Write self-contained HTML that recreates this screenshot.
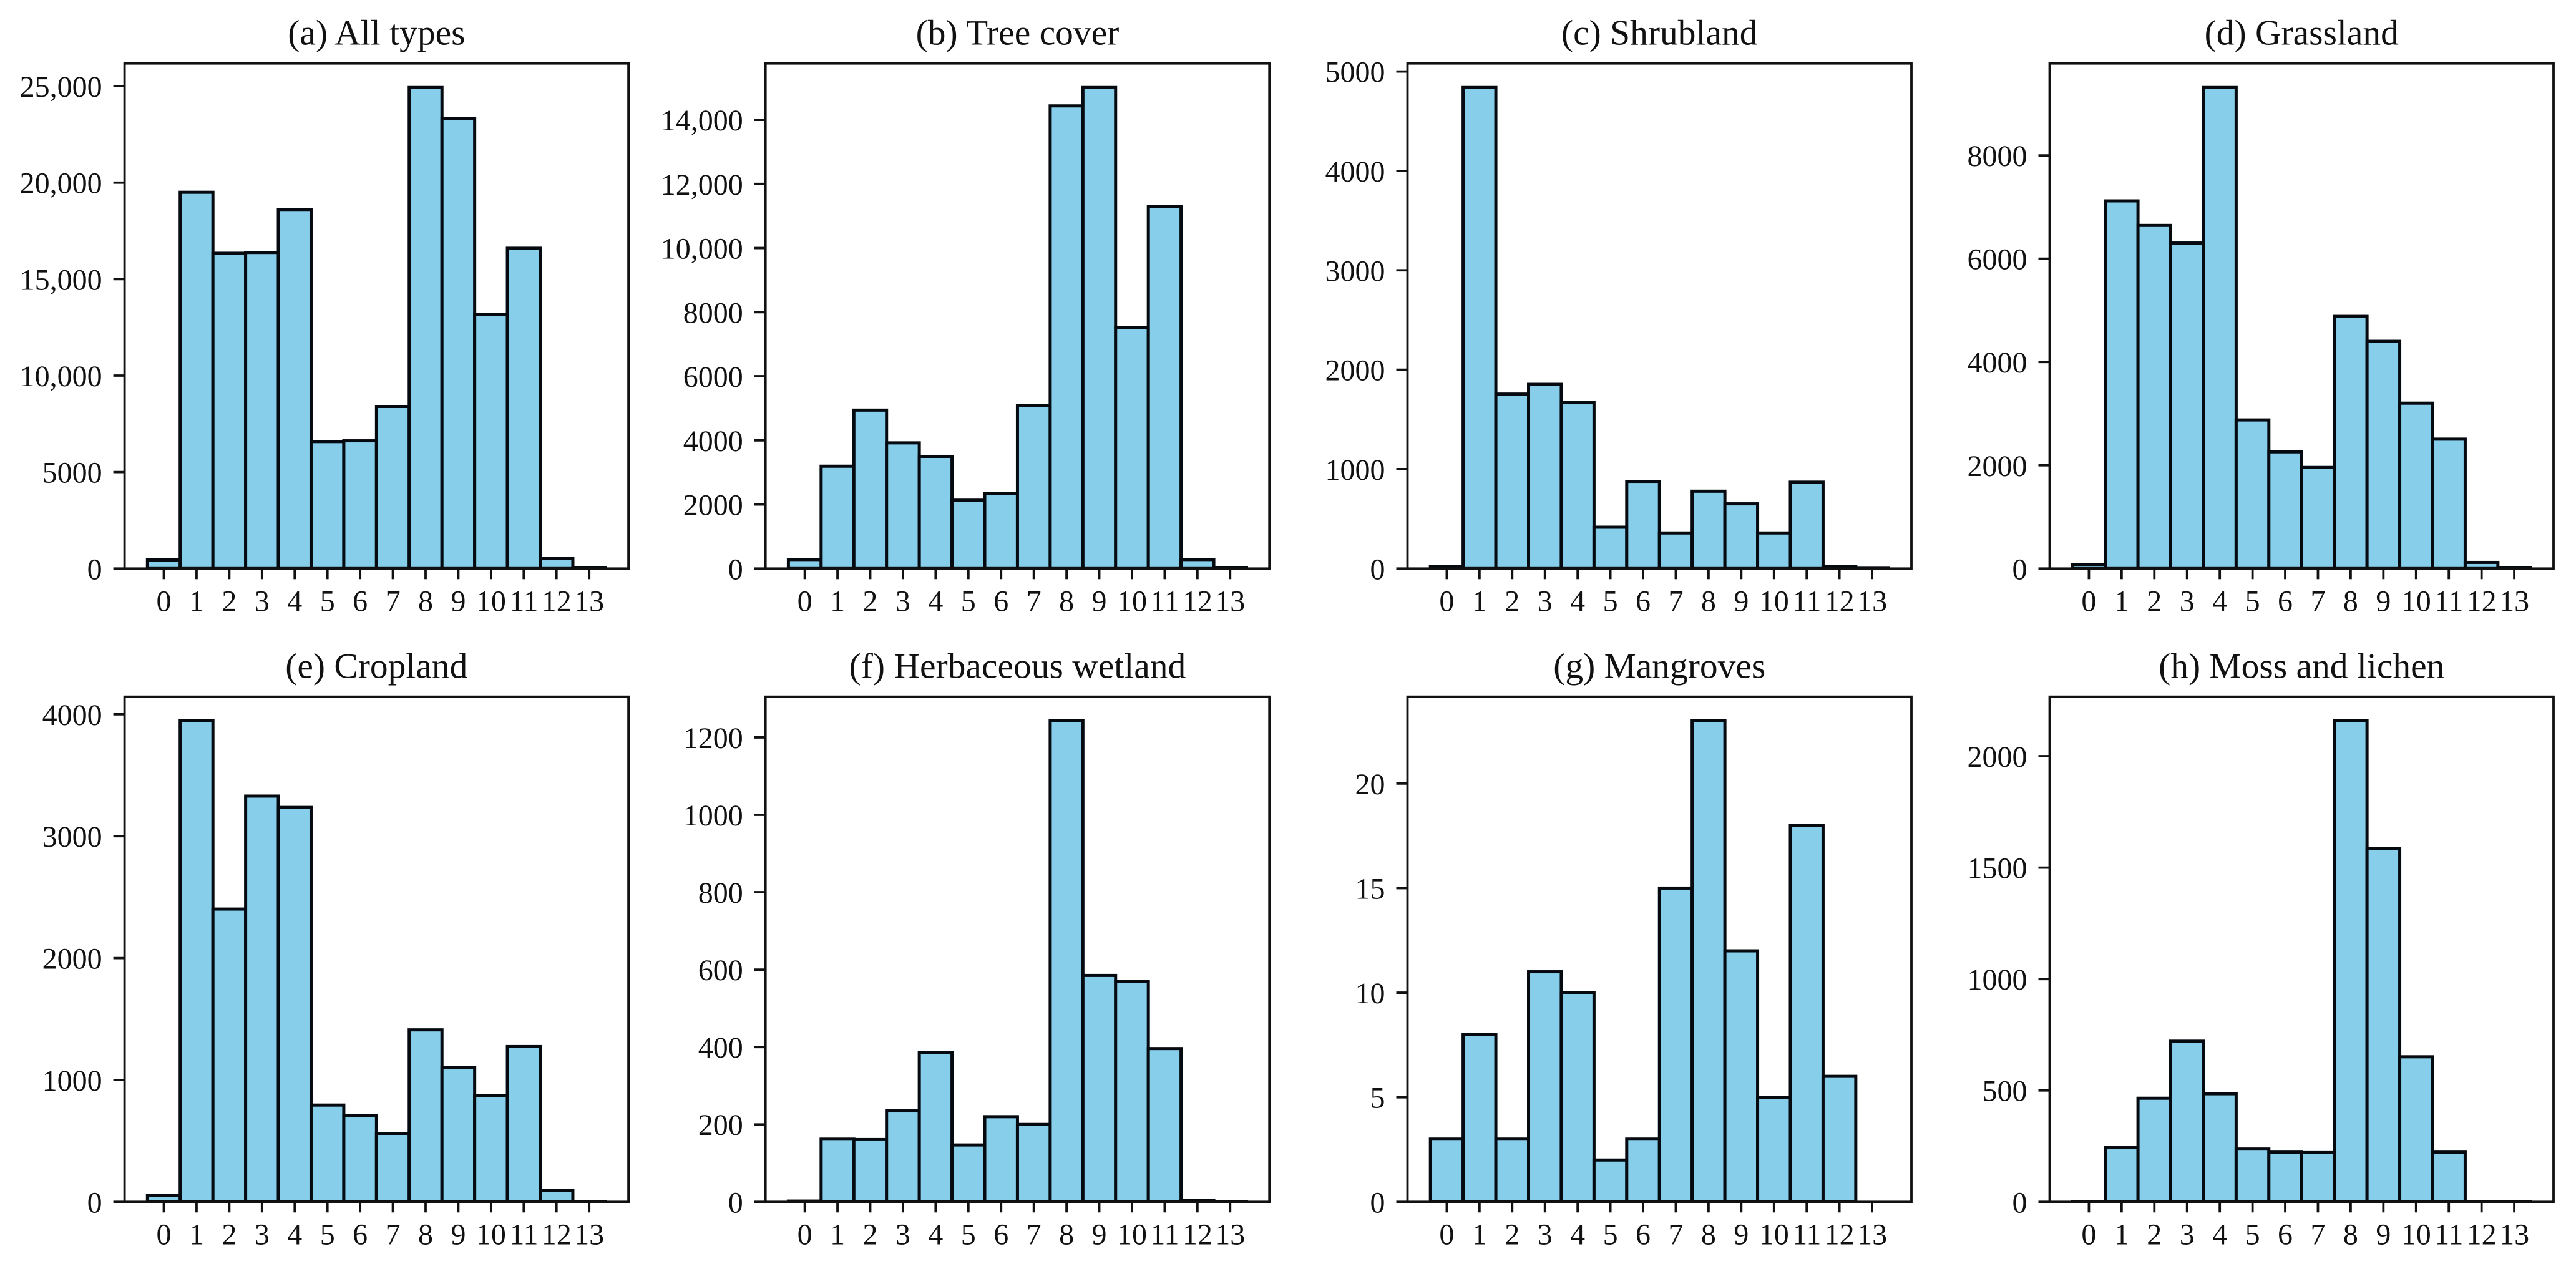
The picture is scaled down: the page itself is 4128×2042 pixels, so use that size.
<!DOCTYPE html>
<html lang="en">
<head>
<meta charset="utf-8">
<title>Histogram panels by land cover type</title>
<style>
  html, body { margin: 0; padding: 0; background: #fff; }
  body { width: 4128px; height: 2042px; overflow: hidden; }
  svg { display: block; }
  text { font-family: "Liberation Serif", "Times New Roman", serif; fill: #111; }
</style>
</head>
<body>
<svg id="figure" xmlns="http://www.w3.org/2000/svg" width="4128" height="2042" viewBox="0 0 4128 2042"></svg>
<script>
// Shared categories
const categories = [0, 1, 2, 3, 4, 5, 6, 7, 8, 9, 10, 11, 12, 13];

// Panel titles
const titles = ["(a) All types", "(b) Tree cover", "(c) Shrubland", "(d) Grassland", "(e) Cropland", "(f) Herbaceous wetland", "(g) Mangroves", "(h) Moss and lichen"];

// Series values
const allTypes = [446, 19500, 16340, 16380, 18610, 6580, 6620, 8400, 24930, 23320, 13180, 16600, 530, 30];
const treeCover = [281, 3193, 4943, 3921, 3500, 2133, 2337, 5084, 14434, 15008, 7510, 11291, 281, 20];
const shrubland = [20, 4839, 1755, 1853, 1668, 416, 877, 358, 778, 651, 358, 869, 20, 3];
const grassland = [79, 7120, 6645, 6304, 9316, 2878, 2260, 1958, 4884, 4401, 3203, 2506, 119, 16];
const cropland = [53, 3947, 2402, 3329, 3236, 794, 707, 560, 1411, 1104, 871, 1274, 93, 3];
const herbaceousWetland = [2, 162, 161, 235, 385, 147, 220, 200, 1243, 585, 570, 396, 4, 1];
const mangroves = [3, 8, 3, 11, 10, 2, 3, 15, 23, 12, 5, 18, 6, 0];
const mossAndLichen = [1, 243, 465, 721, 485, 237, 223, 221, 2159, 1586, 651, 223, 1, 1];

// Y tick labels
const ticksAllTypes = [0, 5000, 10000, 15000, 20000, 25000];
const ticksTreeCover = [0, 2000, 4000, 6000, 8000, 10000, 12000, 14000];
const ticksShrubland = [0, 1000, 2000, 3000, 4000, 5000];
const ticksGrassland = [0, 2000, 4000, 6000, 8000];
const ticksCropland = [0, 1000, 2000, 3000, 4000];
const ticksHerbaceousWetland = [0, 200, 400, 600, 800, 1000, 1200];
const ticksMangroves = [0, 5, 10, 15, 20];
const ticksMossAndLichen = [0, 500, 1000, 1500, 2000];

const seriesList = [allTypes, treeCover, shrubland, grassland, cropland, herbaceousWetland, mangroves, mossAndLichen];
const tickList = [ticksAllTypes, ticksTreeCover, ticksShrubland, ticksGrassland, ticksCropland, ticksHerbaceousWetland, ticksMangroves, ticksMossAndLichen];

const SVG_NS = "http://www.w3.org/2000/svg";
const figure = document.getElementById("figure");

// Layout
const columnLefts = [199.6, 1226.7, 2255.5, 3284.5];
const rowTops = [101.7, 1116.7];
const axesWidth = 807.5;
const axesHeight = 809.6;
const spineWidth = 3.8;
const barStroke = 5;
const tickLength = 17;
const tickFont = 48;
const titleFont = 57.5;

function make(tag, attrs, parent, text) {
  const node = document.createElementNS(SVG_NS, tag);
  for (const key in attrs) node.setAttribute(key, attrs[key]);
  if (text !== undefined) node.textContent = text;
  parent.appendChild(node);
  return node;
}

function formatTick(value) {
  if (value >= 10000) return value.toLocaleString("en-US");
  return String(value);
}

function slug(title) {
  return title.replace(/^\([a-z]\)\s*/, "").toLowerCase().replace(/\s+/g, "-");
}

seriesList.forEach(function (values, panelIndex) {
  const left = columnLefts[panelIndex % 4];
  const top = rowTops[Math.floor(panelIndex / 4)];
  const bottom = top + axesHeight;
  const right = left + axesWidth;
  const name = slug(titles[panelIndex]);

  // Axis functions: matplotlib-style 5% margins
  const xMin = categories[0] - 0.5 - 0.05 * categories.length;
  const xMax = categories[categories.length - 1] + 0.5 + 0.05 * categories.length;
  const yMax = Math.max.apply(null, values) * 1.05;
  const xScale = function (v) { return left + (v - xMin) / (xMax - xMin) * axesWidth; };
  const yScale = function (v) { return bottom - v / yMax * axesHeight; };

  const panel = make("g", {}, figure);
  
  

  // Bars
  values.forEach(function (value, i) {
    const x0 = xScale(categories[i] - 0.5);
    const x1 = xScale(categories[i] + 0.5);
    const y0 = yScale(value);
    const bar = make("rect", {
      x: x0, y: y0, width: x1 - x0, height: bottom - y0,
      fill: "#87CEEB", stroke: "#050a10", "stroke-width": barStroke
    }, panel);
    
    
  });

  // Axes frame
  const frame = make("rect", {
    x: left, y: top, width: right - left, height: axesHeight,
    fill: "none", stroke: "#111", "stroke-width": spineWidth
  }, panel);
  
  

  // X ticks and labels
  categories.forEach(function (category) {
    const x = xScale(category);
    const tick = make("line", {
      x1: x, x2: x, y1: bottom, y2: bottom + tickLength,
      stroke: "#111", "stroke-width": spineWidth
    }, panel);
    
    
    const label = make("text", {
      x: x, y: bottom + 68, "text-anchor": "middle", "font-size": tickFont
    }, panel, String(category));
    
    
  });

  // Y ticks and labels
  tickList[panelIndex].forEach(function (value) {
    const y = yScale(value);
    const tick = make("line", {
      x1: left - tickLength - 1, x2: left, y1: y, y2: y,
      stroke: "#111", "stroke-width": spineWidth
    }, panel);
    
    
    const label = make("text", {
      x: left - 36, y: y + 17, "text-anchor": "end", "font-size": tickFont
    }, panel, formatTick(value));
    
    
  });

  // Title
  const title = make("text", {
    x: left + axesWidth / 2, y: top - 30, "text-anchor": "middle", "font-size": titleFont
  }, panel, titles[panelIndex]);
  
  
});
</script>
</body>
</html>
